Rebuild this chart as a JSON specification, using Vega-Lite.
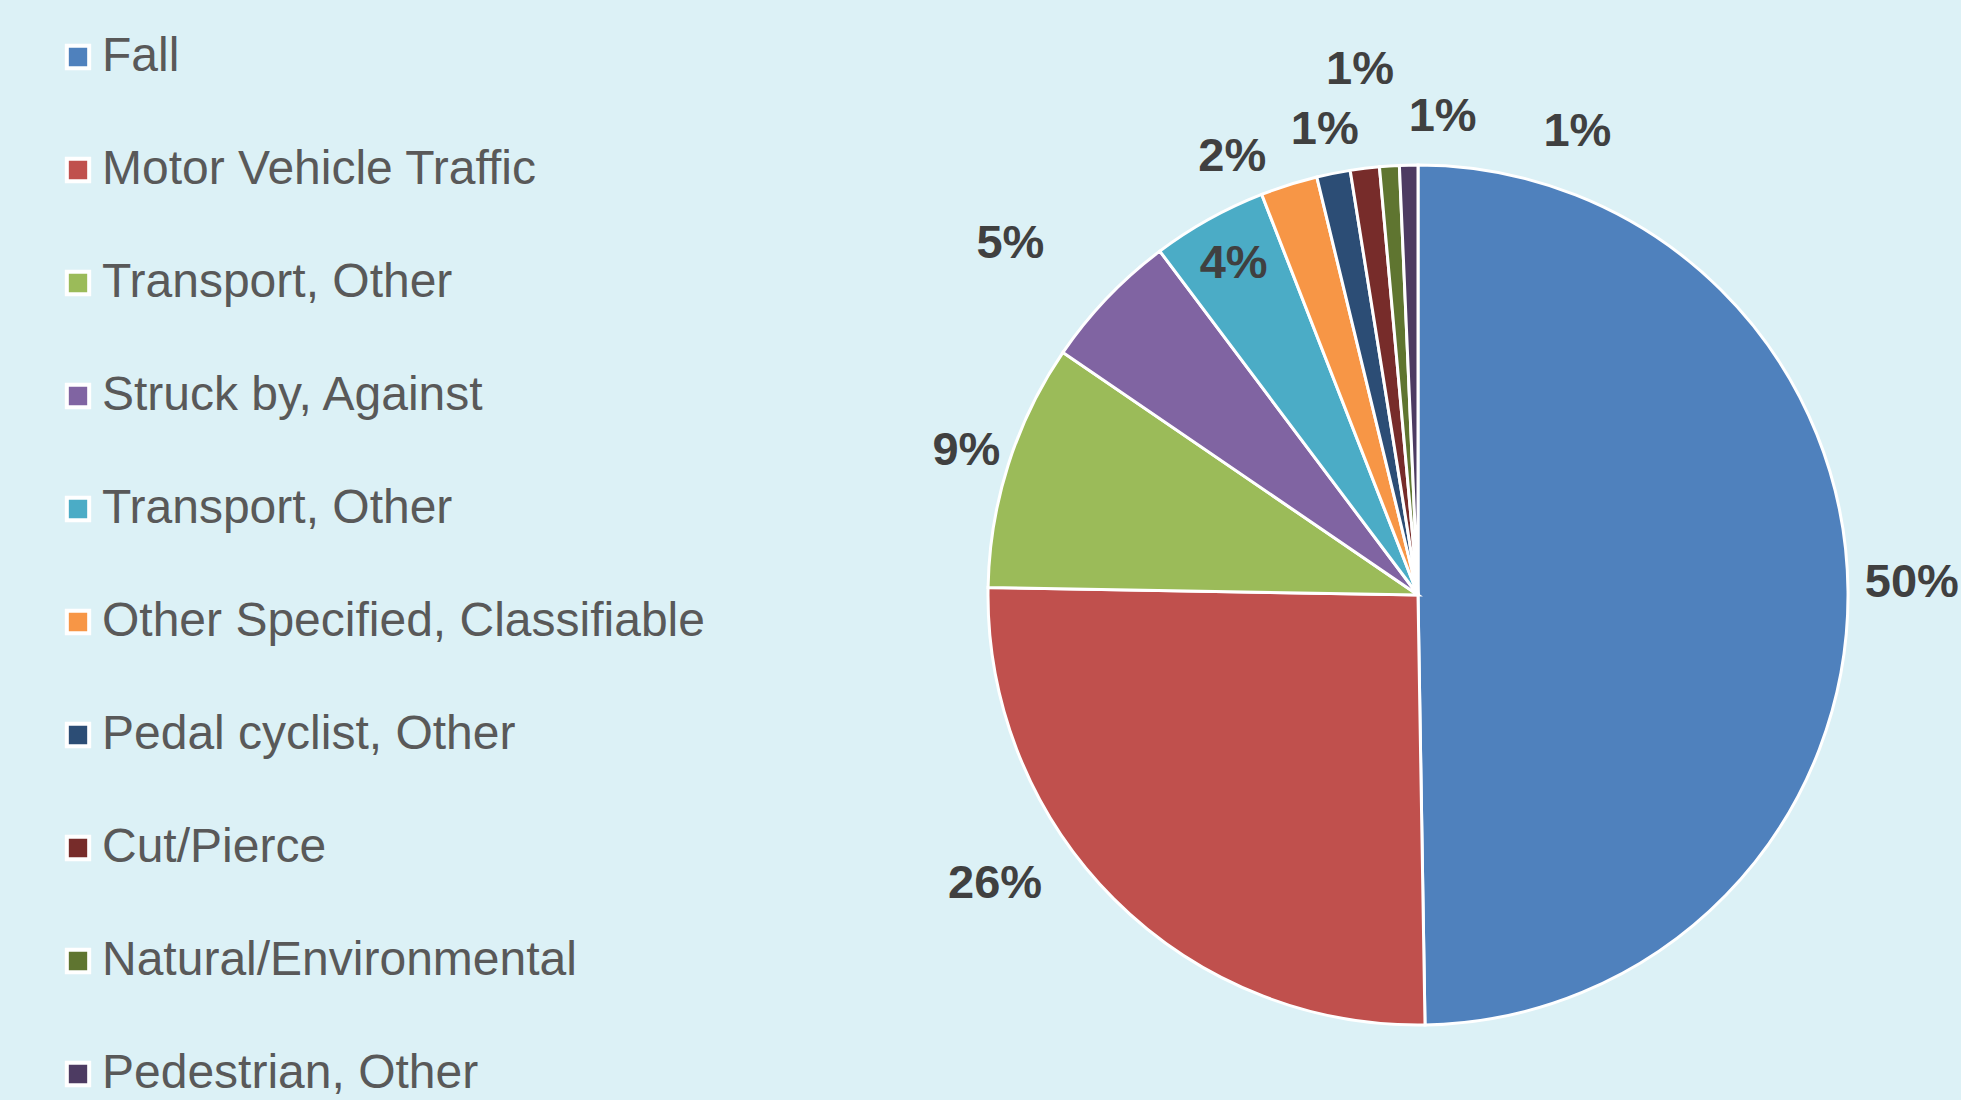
{
  "$schema": "https://vega.github.io/schema/vega-lite/v6.json",
  "autosize": "none",
  "width": 860,
  "height": 860,
  "padding": {"left": 988, "top": 165, "right": 113, "bottom": 75},
  "background": "#dcf1f6",
  "config": {"view": {"stroke": null}},
  "data": {
    "values": [
      {"idx": 1, "key": "Fall", "value": 49.74, "label": "50%"},
      {"idx": 2, "key": "Motor Vehicle Traffic", "value": 25.54, "label": "26%"},
      {"idx": 3, "key": "Transport, Other", "value": 9.26, "label": "9%"},
      {"idx": 4, "key": "Struck by, Against", "value": 5.21, "label": "5%"},
      {"idx": 5, "key": "Transport, Other (2)", "value": 4.33, "label": "4%"},
      {"idx": 6, "key": "Other Specified, Classifiable", "value": 2.14, "label": "2%"},
      {"idx": 7, "key": "Pedal cyclist, Other", "value": 1.26, "label": "1%"},
      {"idx": 8, "key": "Cut/Pierce", "value": 1.09, "label": "1%"},
      {"idx": 9, "key": "Natural/Environmental", "value": 0.74, "label": "1%"},
      {"idx": 10, "key": "Pedestrian, Other", "value": 0.69, "label": "1%"}
    ]
  },
  "encoding": {
    "theta": {"field": "value", "type": "quantitative", "stack": true},
    "order": {"field": "idx", "type": "quantitative"}
  },
  "layer": [
    {
      "mark": {"type": "arc", "outerRadius": 430, "stroke": "white", "strokeWidth": 3},
      "encoding": {
        "color": {
          "field": "key",
          "type": "nominal",
          "sort": null,
          "scale": {
            "domain": ["Fall", "Motor Vehicle Traffic", "Transport, Other", "Struck by, Against", "Transport, Other (2)", "Other Specified, Classifiable", "Pedal cyclist, Other", "Cut/Pierce", "Natural/Environmental", "Pedestrian, Other"],
            "range": ["#4F81BD", "#C0504D", "#9BBB59", "#8064A2", "#4BACC6", "#F79646", "#2C4D75", "#772C2A", "#5F7530", "#4D3B62"]
          },
          "legend": {
            "orient": "none",
            "legendX": -934,
            "legendY": -132,
            "title": null,
            "padding": 0,
            "symbolType": "square",
            "symbolSize": 500,
            "symbolStrokeColor": "white",
            "symbolStrokeWidth": 4,
            "symbolOpacity": 1,
            "labelFont": "Liberation Sans",
            "labelFontSize": 48,
            "labelColor": "#595959",
            "labelOffset": 0,
            "labelLimit": 0,
            "rowPadding": 65,
            "labelExpr": "replace(datum.label, ' (2)', '')"
          }
        }
      }
    },
    {
      "mark": {"type": "text", "radius": 494, "thetaOffset": -0.016, "font": "Liberation Sans", "fontWeight": "bold", "fontSize": 47, "color": "#404040", "align": "center", "baseline": "middle"},
      "encoding": {"text": {"condition": {"test": "datum.key === 'Fall'", "field": "label"}, "value": ""}}
    },
    {
      "mark": {"type": "text", "radius": 512, "thetaOffset": 0.186, "font": "Liberation Sans", "fontWeight": "bold", "fontSize": 47, "color": "#404040", "align": "center", "baseline": "middle"},
      "encoding": {"text": {"condition": {"test": "datum.key === 'Motor Vehicle Traffic'", "field": "label"}, "value": ""}}
    },
    {
      "mark": {"type": "text", "radius": 474, "font": "Liberation Sans", "fontWeight": "bold", "fontSize": 47, "color": "#404040", "align": "center", "baseline": "middle"},
      "encoding": {"text": {"condition": {"test": "datum.key === 'Transport, Other' || datum.key === 'Pedal cyclist, Other'", "field": "label"}, "value": ""}}
    },
    {
      "mark": {"type": "text", "radius": 538, "thetaOffset": -0.052, "font": "Liberation Sans", "fontWeight": "bold", "fontSize": 47, "color": "#404040", "align": "center", "baseline": "middle"},
      "encoding": {"text": {"condition": {"test": "datum.key === 'Struck by, Against'", "field": "label"}, "value": ""}}
    },
    {
      "mark": {"type": "text", "radius": 379, "font": "Liberation Sans", "fontWeight": "bold", "fontSize": 47, "color": "#404040", "align": "center", "baseline": "middle"},
      "encoding": {"text": {"condition": {"test": "datum.key === 'Transport, Other (2)'", "field": "label"}, "value": ""}}
    },
    {
      "mark": {"type": "text", "radius": 476, "thetaOffset": -0.096, "font": "Liberation Sans", "fontWeight": "bold", "fontSize": 47, "color": "#404040", "align": "center", "baseline": "middle"},
      "encoding": {"text": {"condition": {"test": "datum.key === 'Other Specified, Classifiable'", "field": "label"}, "value": ""}}
    },
    {
      "mark": {"type": "text", "radius": 528, "thetaOffset": 0.014, "font": "Liberation Sans", "fontWeight": "bold", "fontSize": 47, "color": "#404040", "align": "center", "baseline": "middle"},
      "encoding": {"text": {"condition": {"test": "datum.key === 'Cut/Pierce'", "field": "label"}, "value": ""}}
    },
    {
      "mark": {"type": "text", "radius": 479, "thetaOffset": 0.118, "font": "Liberation Sans", "fontWeight": "bold", "fontSize": 47, "color": "#404040", "align": "center", "baseline": "middle"},
      "encoding": {"text": {"condition": {"test": "datum.key === 'Natural/Environmental'", "field": "label"}, "value": ""}}
    },
    {
      "mark": {"type": "text", "radius": 490, "thetaOffset": 0.353, "font": "Liberation Sans", "fontWeight": "bold", "fontSize": 47, "color": "#404040", "align": "center", "baseline": "middle"},
      "encoding": {"text": {"condition": {"test": "datum.key === 'Pedestrian, Other'", "field": "label"}, "value": ""}}
    }
  ]
}
